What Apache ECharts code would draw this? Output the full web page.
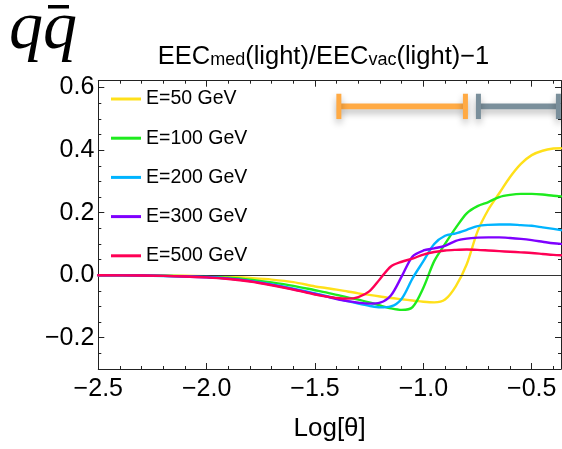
<!DOCTYPE html>
<html>
<head>
<meta charset="utf-8">
<script src="https://cdn.jsdelivr.net/npm/echarts@6/dist/echarts.min.js"></script>
<style>
  html, body { margin: 0; padding: 0; background: #fff; }
  #chart { width: 562px; height: 449px; }
</style>
</head>
<body>
<div id="chart"></div>
<script>
// log10(theta) sample points shared by all curves
const thetas = [-2.5, -2.3, -2.1, -2.0, -1.9, -1.8, -1.7, -1.6, -1.5, -1.45, -1.4, -1.35, -1.3, -1.25,
  -1.2, -1.15, -1.1, -1.05, -1.0, -0.95, -0.9, -0.85, -0.8, -0.75, -0.7, -0.65, -0.6, -0.55,
  -0.5, -0.45, -0.4, -0.365];

// EEC_med / EEC_vac - 1 for each jet energy
const e50 = [0, 0, -0.002, -0.003, -0.005, -0.009, -0.014, -0.022, -0.036, -0.041, -0.046, -0.052, -0.058, -0.063,
  -0.068, -0.073, -0.077, -0.081, -0.085, -0.087, -0.078, -0.035, 0.035, 0.14, 0.21, 0.262, 0.314, 0.356,
  0.384, 0.398, 0.405, 0.406];
const e100 = [0, -0.001, -0.003, -0.005, -0.008, -0.014, -0.023, -0.034, -0.048, -0.055, -0.063, -0.071, -0.078, -0.087,
  -0.097, -0.106, -0.111, -0.102, -0.04, 0.045, 0.1, 0.152, 0.198, 0.221, 0.234, 0.25, 0.257, 0.26,
  0.26, 0.258, 0.254, 0.252];
const e200 = [0, -0.001, -0.004, -0.006, -0.011, -0.018, -0.029, -0.043, -0.058, -0.066, -0.075, -0.083, -0.091, -0.098,
  -0.103, -0.1, -0.075, -0.01, 0.045, 0.1, 0.126, 0.134, 0.145, 0.157, 0.161, 0.162, 0.162, 0.16,
  0.158, 0.153, 0.148, 0.144];
const e300 = [0, -0.001, -0.004, -0.007, -0.011, -0.019, -0.031, -0.045, -0.06, -0.068, -0.076, -0.083, -0.088, -0.091,
  -0.088, -0.065, -0.004, 0.06, 0.079, 0.086, 0.094, 0.11, 0.117, 0.12, 0.121, 0.121, 0.119, 0.116,
  0.112, 0.107, 0.102, 0.1];
const e500 = [0, -0.001, -0.004, -0.007, -0.012, -0.02, -0.032, -0.046, -0.062, -0.068, -0.073, -0.075, -0.07, -0.052,
  -0.012, 0.028, 0.043, 0.053, 0.066, 0.074, 0.079, 0.081, 0.082, 0.081, 0.079, 0.077, 0.075, 0.073,
  0.071, 0.068, 0.065, 0.064];

const seriesNames = ['E=50 GeV', 'E=100 GeV', 'E=200 GeV', 'E=300 GeV', 'E=500 GeV'];
const seriesValues = [e50, e100, e200, e300, e500];
const lineColors = ['#FFE01A', '#1EEB1E', '#00B4FF', '#7F00FF', '#FF0055'];

// angular ranges shown as horizontal bars
const rangeStart = [-1.39, -0.746];
const rangeEnd = [-0.806, -0.377];
const rangeLevel = [0.54, 0.54];
const rangeColors = ['#FFAA44', '#7A8F9B'];

const yMajorTicks = [-0.2, 0, 0.2, 0.4, 0.6];

const FONT = '"Liberation Sans", Arial, sans-serif';
const INK = '#222';
const fmt = v => (v < 0 ? '\u2212' : '') + Math.abs(v).toFixed(1);

const gridBox = { left: 98.3, top: 80.7, right: 1, bottom: 80 };
const X_MIN = -2.5, X_MAX = -0.365, Y_MIN = -0.3, Y_MAX = 0.622;

function xAx(grid, pos, interval, len, withLabels) {
  return {
    type: 'value', gridIndex: grid, position: pos, min: X_MIN, max: X_MAX, interval: interval,
    axisLine: { show: grid === 0, onZero: false, lineStyle: { color: INK, width: 1 } },
    axisTick: { inside: true, length: len, lineStyle: { color: INK, width: 1 } },
    splitLine: { show: false },
    axisLabel: withLabels ? {
      show: true, formatter: fmt, fontSize: 25, color: '#000', fontFamily: FONT, margin: 8,
      showMaxLabel: false
    } : { show: false },
    name: withLabels ? 'Log[\u03B8]' : '',
    nameLocation: 'middle', nameGap: 47,
    nameTextStyle: { fontSize: 26, color: '#000', fontFamily: FONT }
  };
}

function yAx(grid, pos, major, withLabels) {
  const ax = {
    type: 'value', gridIndex: grid, position: pos, min: Y_MIN, max: Y_MAX,
    axisLine: { show: grid === 0, onZero: false, lineStyle: { color: INK, width: 1 } },
    splitLine: { show: false },
    axisLabel: { show: false }
  };
  if (major) {
    ax.axisTick = { inside: true, length: 6, customValues: yMajorTicks, lineStyle: { color: INK, width: 1 } };
    if (withLabels) {
      ax.axisLabel = { show: true, customValues: yMajorTicks, formatter: fmt, fontSize: 25, color: '#000',
        fontFamily: FONT, margin: 4 };
    }
  } else {
    ax.interval = 0.05;
    ax.axisTick = { inside: true, length: 3, lineStyle: { color: INK, width: 1 } };
  }
  return ax;
}

const lineSeries = seriesValues.map((vals, k) => ({
  name: seriesNames[k],
  type: 'line',
  xAxisIndex: 0, yAxisIndex: 0,
  data: thetas.map((t, i) => [t, vals[i]]),
  showSymbol: false,
  smooth: 0.3,
  color: lineColors[k],
  lineStyle: { width: 2.4, color: lineColors[k], cap: 'round', join: 'round' },
  emphasis: { disabled: true },
  z: 3 + k
}));

// reference line at zero
lineSeries[0].markLine = {
  silent: true, symbol: 'none', animation: false,
  label: { show: false },
  lineStyle: { color: '#333', width: 1, type: 'solid' },
  data: [{ yAxis: 0 }]
};

const rangeSeries = {
  type: 'custom',
  xAxisIndex: 0, yAxisIndex: 0,
  data: rangeStart.map((s, i) => [s, rangeEnd[i], rangeLevel[i]]),
  encode: { x: [0, 1], y: 2 },
  z: 10,
  renderItem: function (params, api) {
    const a = api.coord([api.value(0), api.value(2)]);
    const b = api.coord([api.value(1), api.value(2)]);
    const style = {
      fill: rangeColors[params.dataIndex],
      shadowBlur: 7, shadowColor: 'rgba(0,0,0,0.28)', shadowOffsetY: 4
    };
    return {
      type: 'group',
      children: [
        { type: 'rect', shape: { x: a[0], y: a[1] - 2.8, width: b[0] - a[0], height: 5.6 }, style: style },
        { type: 'rect', shape: { x: a[0] - 2.5, y: a[1] - 12.6, width: 5, height: 25.3 }, style: style },
        { type: 'rect', shape: { x: b[0] - 2.5, y: a[1] - 12.6, width: 5, height: 25.3 }, style: style }
      ]
    };
  }
};

const chart = echarts.init(document.getElementById('chart'), null, { renderer: 'canvas' });
chart.setOption({
  animation: false,
  backgroundColor: '#fff',
  grid: [
    Object.assign({ containLabel: false }, gridBox),
    Object.assign({ containLabel: false }, gridBox)
  ],
  xAxis: [
    xAx(0, 'bottom', 0.1, 3, false),
    xAx(0, 'top', 0.1, 3, false),
    xAx(1, 'bottom', 0.5, 6, true),
    xAx(1, 'top', 0.5, 6, false)
  ],
  yAxis: [
    yAx(0, 'left', false, false),
    yAx(0, 'right', false, false),
    yAx(1, 'left', true, true),
    yAx(1, 'right', true, false)
  ],
  legend: {
    data: seriesNames,
    orient: 'vertical',
    left: 111, top: 89,
    padding: 0,
    itemWidth: 30, itemHeight: 3, itemGap: 19.2,
    icon: 'rect',
    selectedMode: false,
    textStyle: { fontSize: 19.5, lineHeight: 19.5, color: '#000', fontFamily: FONT }
  },
  graphic: [
    {
      type: 'text', x: 323.5, y: 54,
      style: {
        text: '{m|EEC}{s|med}{m|(light)/EEC}{s|vac}{m|(light)\u22121}',
        align: 'center', verticalAlign: 'middle',
        rich: {
          m: { fontSize: 25.5, lineHeight: 31, fontFamily: FONT, fill: '#000', verticalAlign: 'bottom' },
          s: { fontSize: 18, lineHeight: 16, fontFamily: FONT, fill: '#000', verticalAlign: 'bottom' }
        }
      }
    },
    {
      type: 'text', x: 9, y: -4,
      style: { text: 'qq', font: 'italic 68px "Liberation Serif", "DejaVu Serif", serif', fill: '#000' }
    },
    {
      type: 'rect', shape: { x: 48, y: 5, width: 21, height: 3.5 }, style: { fill: '#000' }
    }
  ],
  series: lineSeries.concat([rangeSeries])
});
</script>
</body>
</html>
